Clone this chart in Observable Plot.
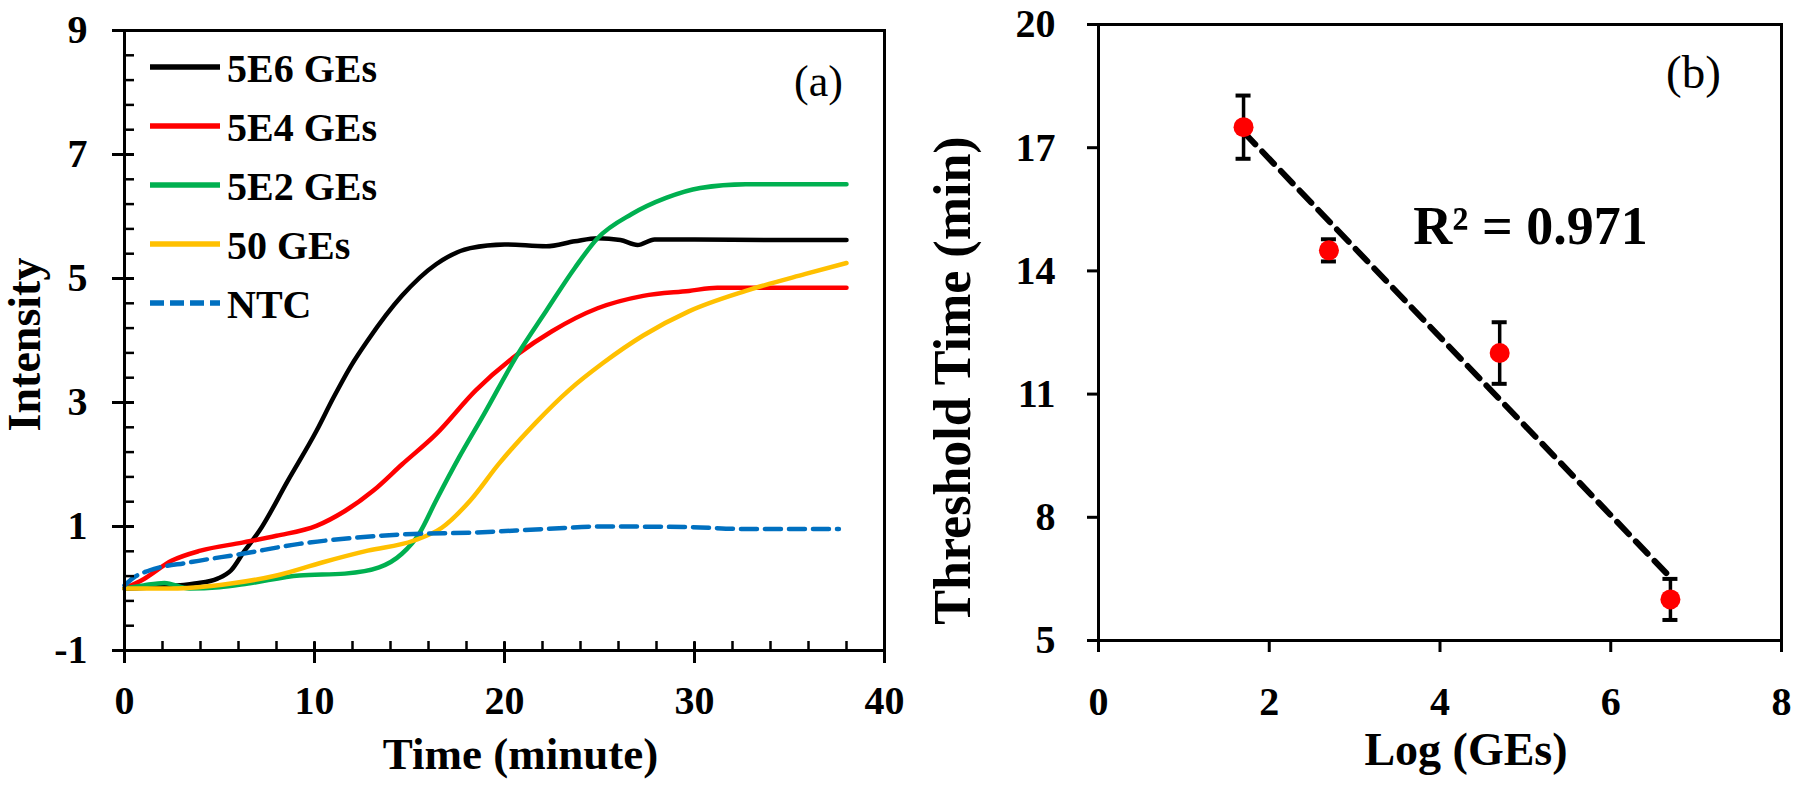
<!DOCTYPE html>
<html><head><meta charset="utf-8">
<script src="https://cdn.jsdelivr.net/npm/d3@7"></script>
<script src="https://cdn.jsdelivr.net/npm/@observablehq/plot@0.6"></script>
<style>
body{margin:0;background:#fff;}
#wrap{position:relative;width:1800px;height:790px;overflow:hidden;background:#fff;}
.panel{position:absolute;top:0;}
#legend{position:absolute;left:0;top:0;}
</style></head><body>
<div id="wrap"><div id="pb" class="panel" style="left:900px"></div><div id="pa" class="panel" style="left:0"></div><svg id="legend" width="420" height="340"></svg></div>
<script>
// ---------- Panel (a): amplification curves ----------
const seriesNames = ["5E6 GEs", "5E4 GEs", "5E2 GEs", "50 GEs", "NTC"];
const seriesColors = ["#000000", "#ff0000", "#00b050", "#ffc000", "#0070c0"];

const t5E6 = [0, 2, 3.7, 4.9, 5.6, 6.3, 7.1, 8.6, 10.1, 11, 11.9, 12.8, 14.6, 16.4, 18.2, 20, 22.2, 23.7, 24.9, 26.1, 27.0, 27.9, 30, 34, 38];
const v5E6 = [0, 0.03, 0.08, 0.16, 0.29, 0.6, 0.93, 1.74, 2.54, 3.08, 3.58, 4.0, 4.72, 5.23, 5.49, 5.55, 5.52, 5.60, 5.65, 5.62, 5.54, 5.63, 5.63, 5.62, 5.62];

const t5E4 = [0, 1, 2.5, 4, 6.2, 8, 10.1, 11.6, 13.1, 14.6, 16.4, 18.5, 20.7, 22.5, 24.9, 27.3, 29.7, 31.2, 34, 38];
const v5E4 = [0, 0.15, 0.45, 0.61, 0.74, 0.85, 1.01, 1.25, 1.58, 2.0, 2.49, 3.2, 3.78, 4.15, 4.52, 4.72, 4.80, 4.85, 4.85, 4.85];

const t5E2 = [0, 1, 2.1, 3.4, 5, 6.5, 9.2, 11.6, 13.4, 14.6, 15.5, 16.4, 17.6, 18.9, 20.7, 22.2, 23.7, 24.9, 26.7, 28.5, 30.3, 32.7, 38];
const v5E2 = [0, 0.05, 0.09, 0.0, 0.02, 0.08, 0.21, 0.24, 0.34, 0.56, 0.88, 1.42, 2.11, 2.8, 3.78, 4.48, 5.17, 5.65, 6.04, 6.30, 6.46, 6.52, 6.52];

const t50 = [0, 2.5, 5.6, 8, 10.4, 12.8, 15.2, 16.7, 18.2, 19.7, 21.6, 23.4, 25.2, 27.3, 29.7, 32.7, 35.8, 38];
const v50 = [0, 0.0, 0.08, 0.21, 0.42, 0.61, 0.77, 0.98, 1.42, 2.01, 2.66, 3.2, 3.64, 4.08, 4.47, 4.80, 5.07, 5.25];

const tNTC = [0, 0.5, 1.3, 3.4, 6.2, 9.2, 12.2, 15.2, 18.2, 22.2, 25.2, 29.7, 32.7, 37.6];
const vNTC = [0.05, 0.18, 0.29, 0.42, 0.56, 0.72, 0.82, 0.88, 0.90, 0.96, 1.0, 0.99, 0.96, 0.96];

const xTicksA = [0, 10, 20, 30, 40];
const xMinorA = d3.range(0, 40.01, 2);
const yTicksA = [-1, 1, 3, 5, 7, 9];
const yMinorA = d3.range(-1, 9.01, 0.4);

// ---------- Panel (b): threshold time vs log(GEs) ----------
const logGEs = [1.699, 2.699, 4.699, 6.699];
const thresholdTime = [17.5, 14.5, 12.0, 6.0];
const thresholdErr = [0.77, 0.27, 0.75, 0.5];
const xTicksB = [0, 2, 4, 6, 8];
const yTicksB = [5, 8, 11, 14, 17, 20];
const r2Label = "R² = 0.971";

const FONT = "'Liberation Serif', 'Times New Roman', serif";

const seriesT = [t5E6, t5E4, t5E2, t50, tNTC];
const seriesV = [v5E6, v5E4, v5E2, v50, vNTC];
const lineMarks = seriesNames.map((name, i) =>
  Plot.line(d3.zip(seriesT[i], seriesV[i]), {
    x: d => d[0], y: d => d[1],
    stroke: seriesColors[i], strokeWidth: 4.5, curve: "monotone-x",
    strokeDasharray: name === "NTC" ? "16,8" : undefined
  })
);

const txt = {textAnchor: "middle", lineAnchor: "middle", fill: "black"};

const plotA = Plot.plot({
  width: 900, height: 790,
  marginLeft: 124, marginRight: 16, marginTop: 30, marginBottom: 140,
  x: {domain: [0, 40]},
  y: {domain: [-1, 9]},
  style: {fontFamily: FONT, fontWeight: "bold", color: "black", background: "transparent", overflow: "visible"},
  marks: [
    ...lineMarks,
    Plot.frame({stroke: "black", strokeWidth: 3}),
    Plot.axisY(yMinorA, {tickSize: -10, strokeWidth: 2.5, fill: "none", label: null}),
    Plot.axisY(yTicksA, {tickSize: 12, strokeWidth: 3, fill: "none", label: null}),
    Plot.axisY(yTicksA, {tickSize: -10, strokeWidth: 3, fill: "none", label: null}),
    Plot.axisY(yTicksA, {tickSize: 0, tickPadding: 37, fontSize: 40, fontWeight: "bold", tickFormat: d => String(d), label: null}),
    Plot.axisX(xMinorA, {tickSize: -9, strokeWidth: 2.5, fill: "none", label: null}),
    Plot.axisX(xTicksA, {tickSize: 13, strokeWidth: 3, fill: "none", label: null}),
    Plot.axisX(xTicksA, {tickSize: -8, strokeWidth: 3, fill: "none", label: null}),
    Plot.axisX(xTicksA, {tickSize: 0, tickPadding: 35, fontSize: 40, fontWeight: "bold", tickFormat: d => String(d), label: null}),
    Plot.text(["Time (minute)"], {...txt, frameAnchor: "bottom", dx: 16, dy: 104, fontSize: 45, fontWeight: "bold"}),
    Plot.text(["Intensity"], {...txt, frameAnchor: "left", dx: -99, dy: 4, rotate: -90, fontSize: 46, fontWeight: "bold"}),
    Plot.text(["(a)"], {...txt, frameAnchor: "top-right", dx: -66, dy: 51, fontSize: 44, fontWeight: "normal"})
  ]
});
document.getElementById("pa").appendChild(plotA);

const pts = logGEs.map((x, i) => ({x, y: thresholdTime[i], e: thresholdErr[i]}));
const plotB = Plot.plot({
  width: 900, height: 790,
  marginLeft: 198, marginRight: 19, marginTop: 24, marginBottom: 150,
  x: {domain: [0, 8]},
  y: {domain: [5, 20]},
  style: {fontFamily: FONT, fontWeight: "bold", color: "black", background: "transparent", overflow: "visible"},
  marks: [
    Plot.linearRegressionY(pts, {x: "x", y: "y", ci: 0, stroke: "black", strokeWidth: 6, strokeDasharray: "17,10"}),
    Plot.ruleX(pts, {x: "x", y1: d => d.y - d.e, y2: d => d.y + d.e, stroke: "black", strokeWidth: 3.5}),
    Plot.ruleY(pts, {y: d => d.y + d.e, x1: "x", x2: "x", insetLeft: 7.5, insetRight: 7.5, stroke: "black", strokeWidth: 4}),
    Plot.ruleY(pts, {y: d => d.y - d.e, x1: "x", x2: "x", insetLeft: 7.5, insetRight: 7.5, stroke: "black", strokeWidth: 4}),
    Plot.dot(pts, {x: "x", y: "y", r: 10, fill: "#ff0000", stroke: "none"}),
    Plot.frame({stroke: "black", strokeWidth: 3}),
    Plot.axisY(yTicksB, {tickSize: 11, strokeWidth: 3, fill: "none", label: null}),
    Plot.axisY(yTicksB, {tickSize: 0, tickPadding: 43, fontSize: 40, fontWeight: "bold", tickFormat: d => String(d), label: null}),
    Plot.axisX(xTicksB, {tickSize: 12, strokeWidth: 3, fill: "none", label: null}),
    Plot.axisX(xTicksB, {tickSize: 0, tickPadding: 46, fontSize: 40, fontWeight: "bold", tickFormat: d => String(d), label: null}),
    Plot.text([r2Label], {...txt, frameAnchor: "top-left", dx: 432, dy: 202, fontSize: 54, fontWeight: "bold"}),
    Plot.text(["Log (GEs)"], {...txt, frameAnchor: "bottom", dx: 26, dy: 110, fontSize: 46, fontWeight: "bold"}),
    Plot.text(["Threshold Time (min)"], {...txt, frameAnchor: "left", dx: -145, dy: 48, rotate: -90, fontSize: 52, fontWeight: "bold"}),
    Plot.text(["(b)"], {...txt, frameAnchor: "top-right", dx: -88, dy: 48, fontSize: 47, fontWeight: "normal"})
  ]
});
document.getElementById("pb").appendChild(plotB);

// ---------- Legend overlay inside panel (a) ----------
const leg = d3.select("#legend");
const rowY0 = 67, rowGap = 59;
seriesNames.forEach((name, i) => {
  const y = rowY0 + i * rowGap;
  leg.append("line").attr("x1", 150).attr("x2", 220).attr("y1", y).attr("y2", y)
    .attr("stroke", seriesColors[i]).attr("stroke-width", 5.5)
    .attr("stroke-dasharray", name === "NTC" ? "14,6" : null);
  leg.append("text").attr("x", 227).attr("y", y + 15).text(name)
    .attr("font-family", FONT).attr("font-weight", "bold").attr("font-size", 40).attr("fill", "black");
});
</script>
</body></html>
